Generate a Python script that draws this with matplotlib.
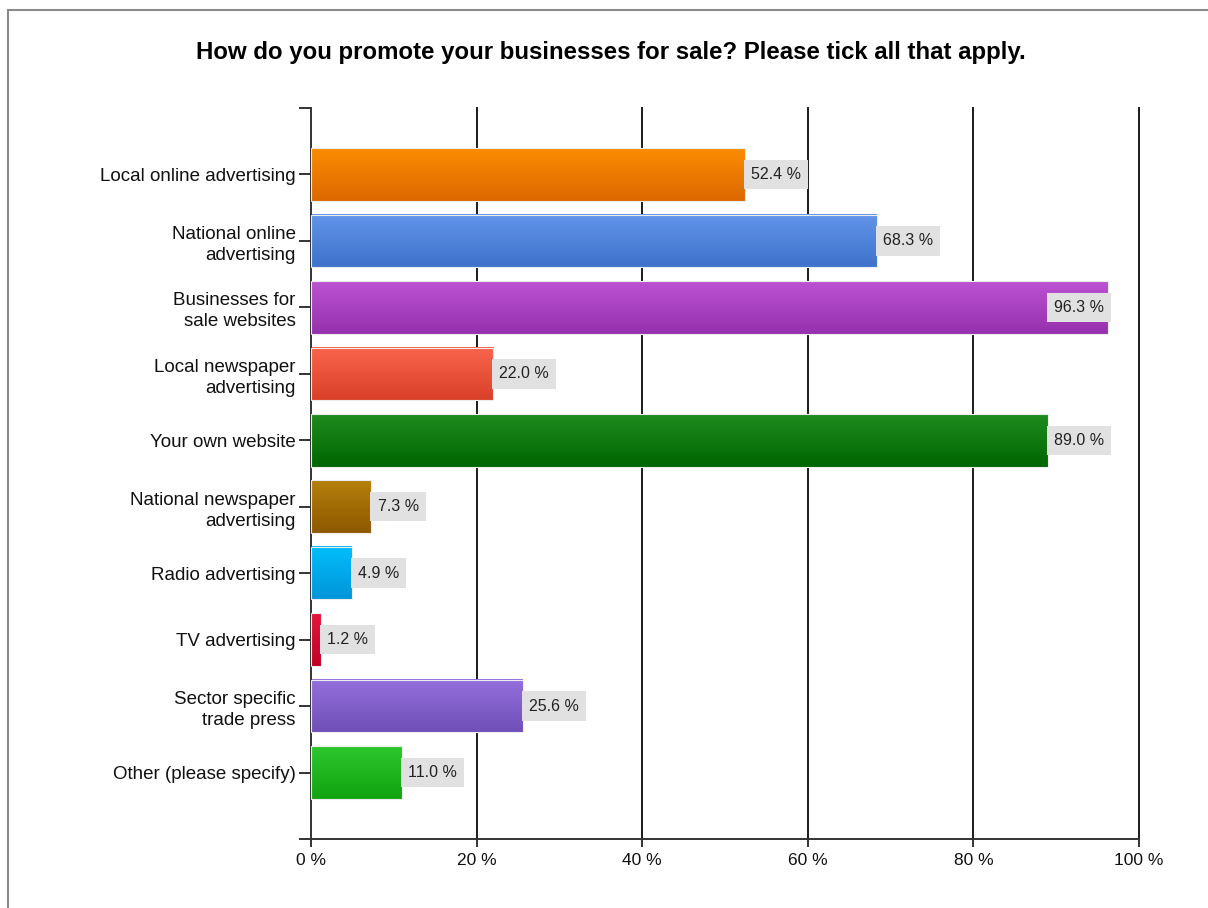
import numpy as np
import matplotlib.pyplot as plt
from matplotlib.colors import LinearSegmentedColormap
from matplotlib.patches import Rectangle

plt.rcParams["font.family"] = ["Liberation Sans", "DejaVu Sans"]

categories = [
    "Local online advertising",
    "National online\nadvertising",
    "Businesses for\nsale websites",
    "Local newspaper\nadvertising",
    "Your own website",
    "National newspaper\nadvertising",
    "Radio advertising",
    "TV advertising",
    "Sector specific\ntrade press",
    "Other (please specify)",
]
values = [52.4, 68.3, 96.3, 22.0, 89.0, 7.3, 4.9, 1.2, 25.6, 11.0]

# top / bottom colour of each bar's vertical gradient
top_colors = ["#fb8c00", "#6195ea", "#bb52d2", "#fa644c", "#1f8c1f",
              "#b5800c", "#03bdfc", "#e3173e", "#9470dc", "#2ec72e"]
bottom_colors = ["#dc6800", "#3f72ca", "#9631ad", "#d9402a", "#006600",
                 "#8e5800", "#0096d9", "#bf0025", "#704fb8", "#10a410"]

title = "How do you promote your businesses for sale? Please tick all that apply."
xticks = [0, 20, 40, 60, 80, 100]

fig = plt.figure(figsize=(12.08, 9.08), dpi=100)
ax = fig.add_axes([311 / 1208, 1 - 839 / 908, 828 / 1208, 731 / 908])

# outer frame (left and top edge)
fig.add_artist(plt.Line2D([8 / 1208, 8 / 1208], [0, 1 - 10 / 908],
                          color="#8a8a8a", lw=1.5, transform=fig.transFigure))
fig.add_artist(plt.Line2D([8 / 1208, 1], [1 - 10 / 908, 1 - 10 / 908],
                          color="#8a8a8a", lw=1.5, transform=fig.transFigure))

n = len(categories)
ypos = np.arange(n)
bar_h = 0.79

ax.set_xlim(0, 100)
ax.set_ylim(n, -1)

for x in xticks[1:]:
    ax.axvline(x, color="#1a1a1a", lw=1.4, zorder=1, clip_on=False)

grad = np.linspace(0, 1, 64).reshape(-1, 1)
for y, v, c1, c2 in zip(ypos, values, top_colors, bottom_colors):
    cmap = LinearSegmentedColormap.from_list("bar", [c1, c2])
    top, bottom = y - bar_h / 2, y + bar_h / 2
    ax.imshow(grad, cmap=cmap, aspect="auto", interpolation="bilinear",
              extent=(0, v, bottom, top), origin="upper", zorder=2)
    ax.add_patch(Rectangle((0, top), v, bar_h, fill=False,
                           edgecolor="#ececec", lw=0.8, zorder=3))

    label = f"{v:.1f} %"
    box = dict(boxstyle="square,pad=0.45", facecolor="#e1e1e1", edgecolor="none")
    if v > 92:
        ax.text(v - 0.55, y, label, ha="right", va="center", fontsize=11.5,
                color="#222222", bbox=box, zorder=4)
    else:
        ax.text(v + 0.75, y, label, ha="left", va="center", fontsize=11.5,
                color="#222222", bbox=box, zorder=4)

ax.set_yticks(list(ypos) + [-1, n])
ax.set_yticklabels(categories + ["", ""], fontsize=13.5, color="#111111",
                   linespacing=1.3)
ax.set_xticks(xticks)
ax.set_xticklabels([f"{x} %" for x in xticks], fontsize=12.5, color="#111111")
ax.tick_params(axis="y", length=9, width=1.4, color="#333333", pad=2)
ax.tick_params(axis="x", length=6, width=1.4, color="#333333", pad=4)

for side in ["top", "right"]:
    ax.spines[side].set_visible(False)
for side in ["left", "bottom"]:
    ax.spines[side].set_color("#333333")
    ax.spines[side].set_linewidth(1.4)

ax.grid(False)
fig.text(611 / 1208, 1 - 52 / 908, title, ha="center", va="center",
         fontsize=17.3, fontweight="bold", color="#000000")

fig.savefig("out.png", dpi=100)
